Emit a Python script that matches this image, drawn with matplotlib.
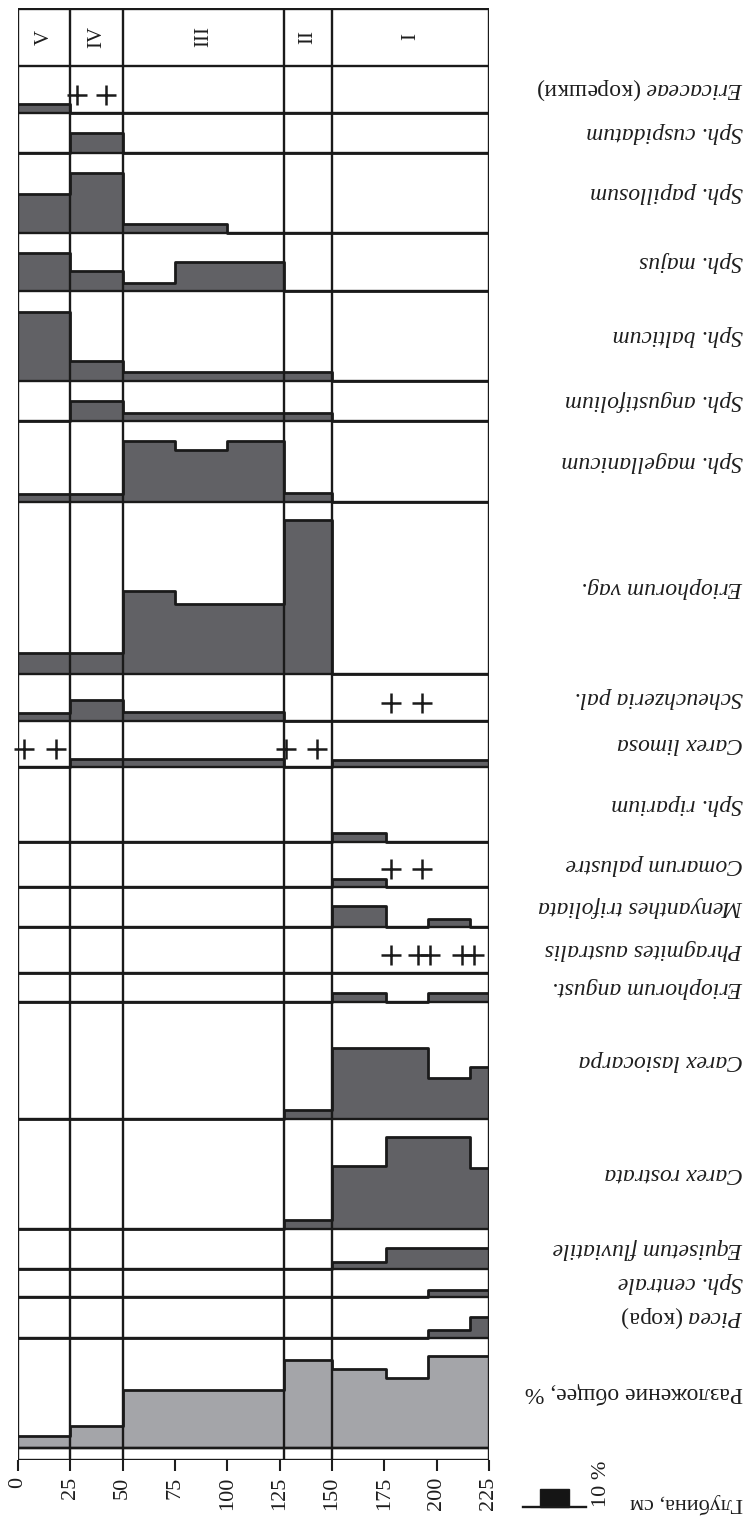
import matplotlib
matplotlib.use("Agg")
import matplotlib.pyplot as plt
from matplotlib import transforms

plt.rcParams['font.family'] = ['Liberation Serif', 'DejaVu Serif']
plt.rcParams['mathtext.fontset'] = 'custom'
plt.rcParams['mathtext.it'] = 'Liberation Serif:italic'
plt.rcParams['mathtext.rm'] = 'Liberation Serif'

# sample intervals along the core, cm
depth_edges = [0, 25, 50, 75, 100, 127, 150, 176, 196, 216, 225]
zone_edges = [0, 25, 50, 127, 150, 225]
zone_names = ['V', 'IV', 'III', 'II', 'I']
depth_ticks = [0, 25, 50, 75, 100, 125, 150, 175, 200, 225]

taxa = [
    r'$\mathit{Ericaceae}$ (корешки)',
    'Sph. cuspidatum',
    'Sph. papillosum',
    'Sph. majus',
    'Sph. balticum',
    'Sph. angustifolium',
    'Sph. magellanicum',
    'Eriophorum vag.',
    'Scheuchzeria pal.',
    'Carex limosa',
    'Sph. riparium',
    'Comarum palustre',
    'Menyanthes trifoliata',
    'Phragmites australis',
    'Eriophorum angust.',
    'Carex lasiocarpa',
    'Carex rostrata',
    'Equisetum fluviatile',
    'Sph. centrale',
    r'$\mathit{Picea}$ (кора)',
]

# content, % per sample interval
ericaceae = [5, 0, 0, 0, 0, 0, 0, 0, 0, 0]
cuspidatum = [0, 11, 0, 0, 0, 0, 0, 0, 0, 0]
papillosum = [21.5, 33, 5, 5, 0, 0, 0, 0, 0, 0]
majus = [21, 11, 4.5, 16, 16, 0, 0, 0, 0, 0]
balticum = [38, 11, 5, 5, 5, 5, 0, 0, 0, 0]
angustifolium = [0, 11, 4.5, 4.5, 4.5, 4.5, 0, 0, 0, 0]
magellanicum = [4.5, 4.5, 34, 29, 34, 5, 0, 0, 0, 0]
erioph_vag = [11.5, 11.5, 46, 39, 39, 85.5, 0, 0, 0, 0]
scheuchzeria = [4.5, 11.5, 5, 5, 5, 0, 0, 0, 0, 0]
carex_limosa = [0, 4.5, 4.5, 4.5, 4.5, 0, 4, 4, 4, 4]
riparium = [0, 0, 0, 0, 0, 0, 5, 0, 0, 0]
comarum = [0, 0, 0, 0, 0, 0, 4.5, 0, 0, 0]
menyanthes = [0, 0, 0, 0, 0, 0, 11.5, 0, 4.5, 0]
phragmites = [0, 0, 0, 0, 0, 0, 0, 0, 0, 0]
erioph_ang = [0, 0, 0, 0, 0, 0, 5, 0, 5, 5]
lasiocarpa = [0, 0, 0, 0, 0, 5, 39.5, 39.5, 23, 29]
rostrata = [0, 0, 0, 0, 0, 5, 35, 51, 51, 34]
equisetum = [0, 0, 0, 0, 0, 0, 4, 11.5, 11.5, 11.5]
centrale = [0, 0, 0, 0, 0, 0, 0, 0, 4, 4]
picea = [0, 0, 0, 0, 0, 0, 0, 0, 4.5, 11.5]
decomposition = [6.5, 12, 32, 32, 32, 49, 44, 39, 51, 51]

taxa_values = [ericaceae, cuspidatum, papillosum, majus, balticum,
               angustifolium, magellanicum, erioph_vag, scheuchzeria,
               carex_limosa, riparium, comarum, menyanthes, phragmites,
               erioph_ang, lasiocarpa, rostrata, equisetum, centrale, picea]

# single finds ("+"), depth in cm
single_finds = {
    0: [28, 42],
    8: [178, 193],
    9: [3, 18, 128, 143],
    11: [178, 193],
    13: [178, 191, 197, 212, 218],
}

# row heights in % units, top to bottom
row_h = [26.1, 22.2, 44.4, 32.2, 50, 22.2, 45, 95.6, 26.1, 25.6, 41.7,
         25, 22.2, 25.6, 16.1, 65, 61.1, 22.2, 15.6, 22.8]
decomp_h = 61.1
header_h = 32.2
box_h = 6.7

DARK = '#616165'
LIGHT = '#a4a5a9'
LINE = '#1a1a1a'
LW = 1.7

fig = plt.figure(figsize=(7.5, 15.25), dpi=100)
ax = fig.add_axes([18 / 750, 1 - 1460 / 1525, 471 / 750, 1452 / 1525])

names = taxa + ['Разложение общее, %']
values = taxa_values + [decomposition]
heights = row_h + [decomp_h]

# stack rows from the bottom up
bases = []
y = box_h
for h in reversed(heights):
    bases.append(y)
    y += h
bases = bases[::-1]
rows_top = y
total = rows_top + header_h


def draw_profile(base, vals, color):
    ys = [base + v for v in vals] + [base + vals[-1]]
    ax.fill_between(depth_edges, base, ys, step='post', color=color, lw=0, zorder=1)
    ax.step(depth_edges, ys, where='post', color=LINE, lw=2.0, zorder=3)


for i, (name, vals, base, h) in enumerate(zip(names, values, bases, heights)):
    color = LIGHT if vals is decomposition else DARK
    draw_profile(base, vals, color)
    for d in single_finds.get(i, []):
        ax.plot(d, base + 10, '+', ms=14, mew=1.8, color=LINE, clip_on=False, zorder=4)

# row lines and zone lines
for yy in [0, box_h] + bases + [rows_top, total]:
    ax.hlines(yy, 0, 225, color=LINE, lw=LW, zorder=2)
ax.hlines(total, 0, 225, color=LINE, lw=2.4, zorder=2)
ax.vlines(zone_edges, 0, total, color=LINE, lw=LW, zorder=2)

# row labels, printed upside down on the right
lab_tr = transforms.blended_transform_factory(fig.transFigure, ax.transData)
for name, base, h in zip(names, bases, heights):
    italic = not (name.startswith('$') or name.startswith('Разл'))
    ax.text(743 / 750, base + h / 2, name, transform=lab_tr, rotation=180,
            ha='right', va='center', fontsize=17,
            style='italic' if italic else 'normal', color='#1e1e1e')

# zone numbers in the header
for a, b, z in zip(zone_edges[:-1], zone_edges[1:], zone_names):
    ax.text((a + b) / 2, rows_top + header_h / 2, z, rotation=90,
            ha='center', va='center', fontsize=15, color='#1e1e1e')

ax.set_xlim(0, 225)
ax.set_ylim(0, total)
ax.set_xticks(depth_ticks)
ax.tick_params(axis='x', length=8, width=1.5, labelsize=16,
               labelrotation=90, pad=4, colors='#1e1e1e')
ax.set_yticks([])
for s in ax.spines.values():
    s.set_visible(False)

# scale mark: 10 %
leg_y = -26.1
ax.plot([241.3, 271.4], [leg_y, leg_y], color=LINE, lw=LW, clip_on=False)
ax.bar(256.3, 10, width=13.9, bottom=leg_y, color='#151515',
       edgecolor=LINE, lw=1, clip_on=False)
ax.text(274.2, leg_y, '10 %', rotation=90, ha='left', va='bottom',
        fontsize=16, color='#1e1e1e')
fig.text(743 / 750, 1 - 1503 / 1525, 'Глубина, см', rotation=180,
         ha='right', va='center', fontsize=16, color='#1e1e1e')

fig.savefig('out.png', dpi=100)
